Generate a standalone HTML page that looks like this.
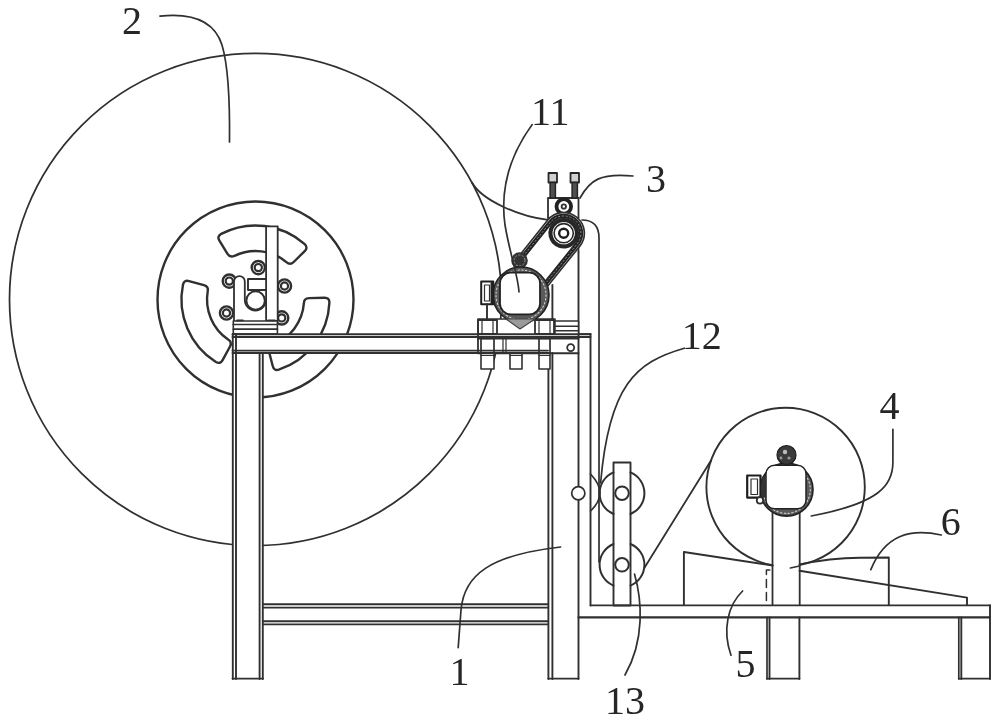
<!DOCTYPE html>
<html><head><meta charset="utf-8"><style>
html,body{margin:0;padding:0;background:#fff;}
svg{display:block;filter:blur(0.45px);}
text{font-family:"Liberation Serif",serif;font-size:40px;fill:#262626;}
</style></head><body>
<svg width="1000" height="722" viewBox="0 0 1000 722" stroke-linecap="round" stroke-linejoin="round">
<circle cx="255.5" cy="299.5" r="246" stroke="#303030" stroke-width="1.75" fill="none"/>
<path d="M 472 182.5 C 481.5 200.1, 520 217, 548 219.8" stroke="#303030" stroke-width="1.8" fill="none" />
<circle cx="255.5" cy="299.5" r="98" stroke="#303030" stroke-width="2.4" fill="none"/>
<path d="M 221.2 233.9 A 74 74 0 0 1 304.7 244.2 Q 308.3 247.6 304.7 251.1 L 293.7 262 Q 290.1 265.5 286.4 262.1 A 48.5 48.5 0 0 0 234.5 255.8 Q 230.2 258.1 227.5 253.9 L 219.4 240.7 Q 216.8 236.4 221.2 233.9 Z" stroke="#303030" stroke-width="2.4" fill="none" />
<path d="M 329.4 302.6 A 74 74 0 0 1 278.8 369.7 Q 274 371.1 272.8 366.3 L 268.9 351.3 Q 267.6 346.5 272.4 345 A 48.5 48.5 0 0 0 303.9 303.2 Q 304 298.2 309 298.1 L 324.5 297.7 Q 329.5 297.6 329.4 302.6 Z" stroke="#303030" stroke-width="2.4" fill="none" />
<path d="M 215.9 362 A 74 74 0 0 1 183 284.6 Q 184.2 279.7 189 281.1 L 203.9 285.2 Q 208.8 286.5 207.7 291.4 A 48.5 48.5 0 0 0 228.1 339.5 Q 232.4 342.1 230 346.5 L 222.6 360.1 Q 220.2 364.5 215.9 362 Z" stroke="#303030" stroke-width="2.4" fill="none" />
<circle cx="258.3" cy="267.6" r="6.6" stroke="#303030" stroke-width="2.4" fill="none"/>
<circle cx="258.3" cy="267.6" r="3.6" stroke="#303030" stroke-width="2.2" fill="none"/>
<circle cx="284.5" cy="286" r="6.6" stroke="#303030" stroke-width="2.4" fill="none"/>
<circle cx="284.5" cy="286" r="3.6" stroke="#303030" stroke-width="2.2" fill="none"/>
<circle cx="281.7" cy="317.9" r="6.6" stroke="#303030" stroke-width="2.4" fill="none"/>
<circle cx="281.7" cy="317.9" r="3.6" stroke="#303030" stroke-width="2.2" fill="none"/>
<circle cx="226.5" cy="313" r="6.6" stroke="#303030" stroke-width="2.4" fill="none"/>
<circle cx="226.5" cy="313" r="3.6" stroke="#303030" stroke-width="2.2" fill="none"/>
<circle cx="229.3" cy="281.1" r="6.6" stroke="#303030" stroke-width="2.4" fill="none"/>
<circle cx="229.3" cy="281.1" r="3.6" stroke="#303030" stroke-width="2.2" fill="none"/>
<rect x="266.1" y="226.3" width="11.6" height="94.7" stroke="#303030" stroke-width="1.8" fill="#fff"/>
<path d="M 234 321 L 234 281.5 A 5.4 5.4 0 0 1 244.8 281.5 L 244.8 300 A 10.6 10.6 0 0 0 266 300" stroke="#303030" stroke-width="1.8" fill="#fff" />
<circle cx="255.6" cy="300.5" r="9.2" stroke="#303030" stroke-width="1.9" fill="none"/>
<path d="M 248 290 L 248 279 L 266 279 M 248 290 L 266 290" stroke="#303030" stroke-width="1.9" fill="none" />
<rect x="233.3" y="321" width="44.1" height="13" stroke="#303030" stroke-width="1.6" fill="#fff"/>
<line x1="233.3" y1="324.5" x2="277.4" y2="324.5" stroke="#303030" stroke-width="1.7" />
<line x1="233.3" y1="329.2" x2="277.4" y2="329.2" stroke="#303030" stroke-width="1.7" />
<line x1="237" y1="320.4" x2="243" y2="320.4" stroke="#303030" stroke-width="1.7" />
<line x1="268" y1="320.4" x2="275" y2="320.4" stroke="#303030" stroke-width="1.7" />
<rect x="232.5" y="334" width="30.5" height="345" fill="#fff"/>
<rect x="548" y="353" width="30.5" height="326" fill="#fff"/>
<rect x="232.5" y="334" width="358" height="19" fill="#fff"/>
<line x1="232.5" y1="334.2" x2="590.5" y2="334.2" stroke="#303030" stroke-width="1.9" />
<line x1="232.5" y1="337" x2="590.5" y2="337" stroke="#303030" stroke-width="1.9" />
<line x1="232.5" y1="350.6" x2="548" y2="350.6" stroke="#303030" stroke-width="1.9" />
<line x1="232.5" y1="353" x2="548" y2="353" stroke="#303030" stroke-width="1.9" />
<line x1="232.8" y1="334" x2="232.8" y2="679" stroke="#303030" stroke-width="1.9" />
<line x1="236" y1="334" x2="236" y2="679" stroke="#303030" stroke-width="1.9" />
<line x1="259.6" y1="353" x2="259.6" y2="679" stroke="#303030" stroke-width="1.9" />
<line x1="262.8" y1="353" x2="262.8" y2="679" stroke="#303030" stroke-width="1.9" />
<line x1="232.5" y1="678.6" x2="263" y2="678.6" stroke="#303030" stroke-width="1.9" />
<line x1="548.4" y1="353" x2="548.4" y2="679" stroke="#303030" stroke-width="1.9" />
<line x1="552.4" y1="353" x2="552.4" y2="679" stroke="#303030" stroke-width="1.9" />
<line x1="578.5" y1="252" x2="578.5" y2="679" stroke="#303030" stroke-width="1.9" />
<line x1="548.4" y1="678.6" x2="578.5" y2="678.6" stroke="#303030" stroke-width="1.9" />
<line x1="263" y1="604.2" x2="548" y2="604.2" stroke="#303030" stroke-width="1.9" />
<line x1="263" y1="607.6" x2="548" y2="607.6" stroke="#303030" stroke-width="1.9" />
<line x1="263" y1="621.2" x2="548" y2="621.2" stroke="#303030" stroke-width="1.9" />
<line x1="263" y1="624.4" x2="548" y2="624.4" stroke="#303030" stroke-width="1.9" />
<path d="M 578.5 252 L 578.5 230 M 582 220 Q 599 220 599 238 L 599 562" stroke="#303030" stroke-width="1.7" fill="none" />
<line x1="590.5" y1="334" x2="590.5" y2="605.5" stroke="#303030" stroke-width="1.9" />
<line x1="578.5" y1="334" x2="590.5" y2="334" stroke="#303030" stroke-width="1.7" />
<rect x="478" y="319" width="77" height="15" stroke="#303030" stroke-width="1.6" fill="#fff"/>
<rect x="478" y="320" width="19" height="14" stroke="#303030" stroke-width="1.8" fill="none"/>
<rect x="535" y="320" width="19" height="14" stroke="#303030" stroke-width="1.8" fill="none"/>
<line x1="482" y1="320" x2="482" y2="334" stroke="#303030" stroke-width="1.2" />
<line x1="493" y1="320" x2="493" y2="334" stroke="#303030" stroke-width="1.2" />
<line x1="539" y1="320" x2="539" y2="334" stroke="#303030" stroke-width="1.2" />
<line x1="550" y1="320" x2="550" y2="334" stroke="#303030" stroke-width="1.2" />
<rect x="555" y="321" width="23.5" height="13" stroke="#303030" stroke-width="1.5" fill="#fff"/>
<line x1="555" y1="326.3" x2="578.5" y2="326.3" stroke="#303030" stroke-width="1.4" />
<line x1="555" y1="330.7" x2="578.5" y2="330.7" stroke="#303030" stroke-width="1.4" />
<line x1="478" y1="338.5" x2="578.5" y2="338.5" stroke="#303030" stroke-width="1.9" />
<rect x="481" y="353" width="13" height="16" stroke="#303030" stroke-width="1.6" fill="#fff"/>
<line x1="481" y1="355.5" x2="494" y2="355.5" stroke="#303030" stroke-width="1.2" />
<rect x="510" y="353" width="12" height="16" stroke="#303030" stroke-width="1.6" fill="#fff"/>
<line x1="510" y1="355.5" x2="522" y2="355.5" stroke="#303030" stroke-width="1.2" />
<rect x="539" y="353" width="11" height="16" stroke="#303030" stroke-width="1.6" fill="#fff"/>
<line x1="539" y1="355.5" x2="550" y2="355.5" stroke="#303030" stroke-width="1.2" />
<rect x="481" y="338.5" width="13" height="14.5" stroke="#303030" stroke-width="1.7" fill="none"/>
<rect x="539" y="338.5" width="11" height="14.5" stroke="#303030" stroke-width="1.7" fill="none"/>
<line x1="503" y1="338.5" x2="503" y2="353" stroke="#303030" stroke-width="1.2" />
<line x1="506" y1="338.5" x2="506" y2="353" stroke="#303030" stroke-width="1.2" />
<circle cx="570.7" cy="347.6" r="3.5" stroke="#303030" stroke-width="1.8" fill="none"/>
<line x1="478" y1="334" x2="478" y2="353" stroke="#303030" stroke-width="1.8" />
<line x1="478" y1="353.2" x2="578.5" y2="353.2" stroke="#303030" stroke-width="1.9" />
<rect x="548" y="198" width="30.5" height="20" stroke="#303030" stroke-width="1.8" fill="#fff"/>
<circle cx="563.8" cy="206.5" r="7.3" stroke="#222" stroke-width="3.8" fill="#fff"/>
<circle cx="563.8" cy="206.5" r="2.2" stroke="#303030" stroke-width="1.8" fill="none"/>
<rect x="548.5" y="173" width="8.5" height="9.5" stroke="#262626" stroke-width="1.8" fill="#d0d0d0"/>
<rect x="550.1" y="182.5" width="5.3" height="15.5" stroke="#262626" stroke-width="1.5" fill="#505050"/>
<rect x="570.5" y="173" width="8.5" height="9.5" stroke="#262626" stroke-width="1.8" fill="#d0d0d0"/>
<rect x="572.1" y="182.5" width="5.3" height="15.5" stroke="#262626" stroke-width="1.5" fill="#505050"/>
<path d="M 547.6 220.3 A 20.6 20.6 0 1 1 579.8 246.1 L 543.5 291.3 L 518.9 256.2 Z" fill="#fff"/>
<path d="M 520.1 254.7 L 547.6 220.3 A 20.6 20.6 0 1 1 579.8 246.1 L 543.5 291.3" stroke="#303030" stroke-width="1.7" fill="none" />
<path d="M 520.9 259.1 L 550.3 222.4 A 17.2 17.2 0 1 1 577.1 244 L 540.8 289.2" stroke="#242424" stroke-width="4.6" fill="none" />
<path d="M 520.9 259.1 L 550.3 222.4 A 17.2 17.2 0 1 1 577.1 244 L 540.8 289.2" stroke="#8a8a8a" stroke-width="1.0" fill="none" stroke-dasharray="1.2 2.6"/>
<circle cx="519.5" cy="260.5" r="8.3" fill="#333"/>
<circle cx="519.5" cy="260.5" r="5.5" fill="none" stroke="#999" stroke-width="1" stroke-dasharray="1.3 2.2"/>
<circle cx="563.7" cy="233.2" r="13.2" fill="none" stroke="#262626" stroke-width="4.2" stroke-dasharray="2.1 1.3"/>
<circle cx="563.7" cy="233.2" r="9.6" stroke="#262626" stroke-width="1.6" fill="#fff"/>
<circle cx="563.7" cy="233.2" r="4.5" stroke="#1e1e1e" stroke-width="2.4" fill="none"/>
<circle cx="521" cy="295" r="28" fill="#5a5a5a" stroke="#222" stroke-width="1.6"/>
<circle cx="521" cy="295" r="25" fill="none" stroke="#cfcfcf" stroke-width="1.1" stroke-dasharray="1.4 2.4"/>
<rect x="500" y="272.7" width="40" height="41.6" rx="10.5" ry="10.5" fill="#fff" stroke="#222" stroke-width="1.8"/>
<path d="M 506 319 L 520 329 L 535 319 Z" fill="#9a9a9a" stroke="#444" stroke-width="1.1"/>
<rect x="481.2" y="281.6" width="12.1" height="22.7" stroke="#1e1e1e" stroke-width="2.0" fill="#fff"/>
<rect x="484.5" y="285" width="5" height="16" stroke="#303030" stroke-width="1.2" fill="none"/>
<line x1="492" y1="283" x2="492" y2="303" stroke="#222" stroke-width="3" />
<line x1="487" y1="304.3" x2="487" y2="319" stroke="#303030" stroke-width="1.9" />
<line x1="552.4" y1="285" x2="552.4" y2="320" stroke="#303030" stroke-width="1.9" />
<rect x="613.5" y="462.5" width="17" height="143" fill="#fff"/>
<path d="M 613.5 472.4 A 22.5 22.5 0 0 0 613.5 514" stroke="#303030" stroke-width="2.0" fill="none" />
<path d="M 630.5 472.4 A 22.5 22.5 0 0 1 630.5 514" stroke="#303030" stroke-width="2.0" fill="none" />
<circle cx="622" cy="493.2" r="6.8" stroke="#303030" stroke-width="2.0" fill="none"/>
<path d="M 613.5 544 A 22.5 22.5 0 0 0 613.5 585.6" stroke="#303030" stroke-width="2.0" fill="none" />
<path d="M 630.5 544 A 22.5 22.5 0 0 1 630.5 585.6" stroke="#303030" stroke-width="2.0" fill="none" />
<circle cx="622" cy="564.8" r="6.8" stroke="#303030" stroke-width="2.0" fill="none"/>
<rect x="613.5" y="462.5" width="17" height="143" stroke="#303030" stroke-width="1.9" fill="none"/>
<path d="M 590.5 474 Q 600 484 600 493 Q 600 502 590.5 511" stroke="#303030" stroke-width="1.7" fill="none" />
<circle cx="578.3" cy="493.2" r="6.6" stroke="#303030" stroke-width="1.7" fill="#fff"/>
<line x1="644.3" y1="568" x2="711" y2="460.5" stroke="#303030" stroke-width="1.8" />
<line x1="590.5" y1="605.3" x2="990" y2="605.3" stroke="#303030" stroke-width="1.8" />
<line x1="578.5" y1="617.4" x2="990" y2="617.4" stroke="#303030" stroke-width="2.2" />
<line x1="990" y1="605.3" x2="990" y2="617.4" stroke="#303030" stroke-width="1.9" />
<line x1="767" y1="617.4" x2="767" y2="679" stroke="#303030" stroke-width="1.7" />
<line x1="769.5" y1="617.4" x2="769.5" y2="679" stroke="#303030" stroke-width="1.9" />
<line x1="799.4" y1="617.4" x2="799.4" y2="679" stroke="#303030" stroke-width="1.9" />
<line x1="767" y1="678.6" x2="799.4" y2="678.6" stroke="#303030" stroke-width="1.9" />
<line x1="958.8" y1="617.4" x2="958.8" y2="679" stroke="#303030" stroke-width="1.7" />
<line x1="961.3" y1="617.4" x2="961.3" y2="679" stroke="#303030" stroke-width="1.9" />
<line x1="990" y1="617.4" x2="990" y2="679" stroke="#303030" stroke-width="1.9" />
<line x1="958.8" y1="678.6" x2="990" y2="678.6" stroke="#303030" stroke-width="1.9" />
<circle cx="785.6" cy="487" r="79.2" stroke="#303030" stroke-width="1.9" fill="none"/>
<rect x="772.8" y="506" width="26.7" height="98" fill="#fff"/>
<line x1="772.5" y1="510" x2="772.5" y2="604.5" stroke="#303030" stroke-width="1.8" />
<line x1="799.7" y1="510" x2="799.7" y2="604.5" stroke="#303030" stroke-width="1.8" />
<circle cx="786.5" cy="489.6" r="26.5" fill="#5a5a5a" stroke="#222" stroke-width="1.6"/>
<circle cx="786.5" cy="489.6" r="23.8" fill="none" stroke="#cfcfcf" stroke-width="1.1" stroke-dasharray="1.4 2.4"/>
<rect x="766" y="465.3" width="40" height="43.5" rx="8.5" ry="8.5" fill="#fff" stroke="#222" stroke-width="1.5"/>
<circle cx="786.5" cy="455" r="9.5" fill="#3a3a3a" stroke="#1e1e1e" stroke-width="1.2"/>
<circle cx="785" cy="452" r="2.2" fill="#bbb"/><circle cx="789" cy="458" r="1.6" fill="#999"/><circle cx="781" cy="458" r="1.4" fill="#999"/>
<rect x="747.2" y="475.5" width="13.3" height="22.1" stroke="#1e1e1e" stroke-width="2.2" fill="#fff"/>
<rect x="751" y="479" width="6.5" height="15.5" stroke="#303030" stroke-width="1.2" fill="none"/>
<line x1="763.5" y1="478" x2="763.5" y2="496" stroke="#333" stroke-width="3.5" />
<circle cx="760" cy="500.4" r="3.2" stroke="#303030" stroke-width="1.8" fill="#fff"/>
<path d="M 683.9 605 L 683.9 552 L 772.8 565.5" stroke="#303030" stroke-width="1.9" fill="none" />
<path d="M 799.5 564.4 Q 830 558 860 557.7 L 888.8 557.5 L 888.8 605" stroke="#303030" stroke-width="1.9" fill="none" />
<path d="M 799.5 570.8 L 967 597.6 L 967 605" stroke="#303030" stroke-width="1.9" fill="none" />
<line x1="790.4" y1="568" x2="799.5" y2="566" stroke="#303030" stroke-width="1.7" />
<path d="M 769.8 570 L 766.4 570 L 766.4 605" stroke="#303030" stroke-width="1.5" fill="none" stroke-dasharray="8 5"/>
<path d="M 160 16.2 C 190 13, 214 20, 222 45 C 228 65, 230 95, 229.5 142" stroke="#303030" stroke-width="1.7" fill="none" />
<path d="M 532.2 124.6 C 508 158, 500 190, 505 225 C 510 255, 518 275, 519 292" stroke="#303030" stroke-width="1.7" fill="none" />
<path d="M 580 198 C 590 180, 600 173, 633 176" stroke="#303030" stroke-width="1.7" fill="none" />
<path d="M 684.3 348.2 C 636 362, 609 385, 600.6 483" stroke="#303030" stroke-width="1.7" fill="none" />
<path d="M 892.9 429.3 L 892.9 462 C 893 485, 880 503, 811.3 516" stroke="#303030" stroke-width="1.7" fill="none" />
<path d="M 941.3 535 C 910 528, 885 535, 870.8 569.6" stroke="#303030" stroke-width="1.7" fill="none" />
<path d="M 458.2 647.6 L 461 610 C 464 575, 490 555, 560.6 547" stroke="#303030" stroke-width="1.7" fill="none" />
<path d="M 731 655.3 C 722 630, 728 605, 742.6 591" stroke="#303030" stroke-width="1.7" fill="none" />
<path d="M 625 675 C 645 640, 642 600, 634.5 574" stroke="#303030" stroke-width="1.7" fill="none" />
<text x="122" y="33.8">2</text>
<text x="531" y="125">11</text>
<text x="646" y="192">3</text>
<text x="681.7" y="348.5">12</text>
<text x="879.4" y="418.7">4</text>
<text x="940.7" y="535">6</text>
<text x="449.5" y="685.3">1</text>
<text x="735.6" y="677">5</text>
<text x="605" y="714">13</text>
</svg>
</body></html>
